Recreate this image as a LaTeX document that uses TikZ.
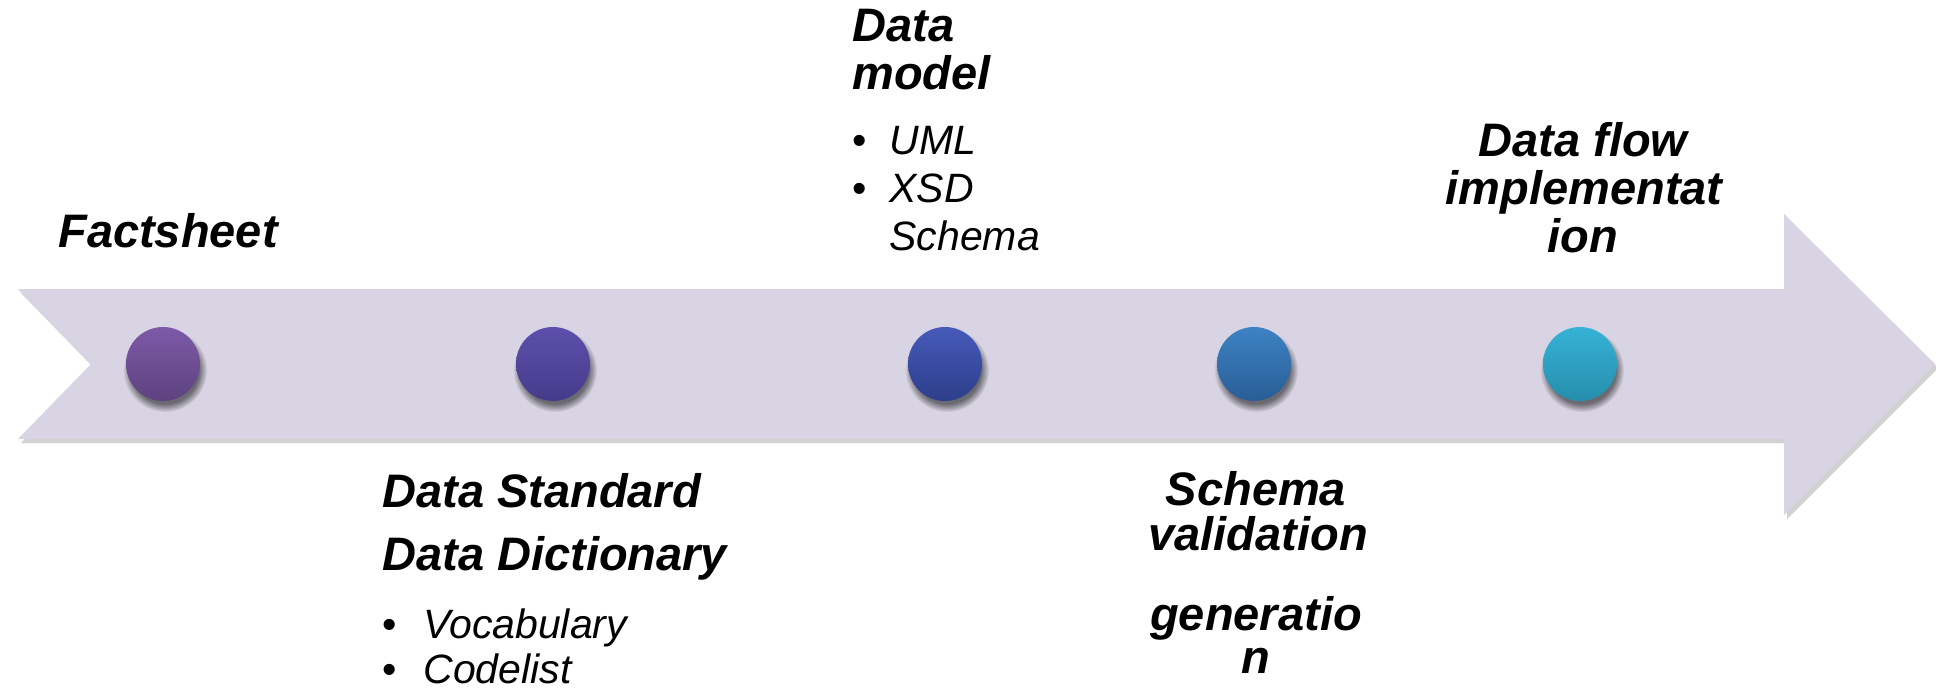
\documentclass[tikz,border=0pt]{standalone}
\usepackage{fontspec}
\setmainfont{Liberation Sans}
\usetikzlibrary{fadings}
\definecolor{arrowfill}{RGB}{216,212,227}
\definecolor{dotAt}{RGB}{125,90,168}  \definecolor{dotAb}{RGB}{94,66,126}
\definecolor{dotBt}{RGB}{93,79,172}   \definecolor{dotBb}{RGB}{69,59,138}
\definecolor{dotCt}{RGB}{70,90,186}   \definecolor{dotCb}{RGB}{45,62,138}
\definecolor{dotDt}{RGB}{61,130,196}  \definecolor{dotDb}{RGB}{41,94,150}
\definecolor{dotEt}{RGB}{54,178,214}  \definecolor{dotEb}{RGB}{38,142,172}
\newcommand{\bul}[1]{\makebox[#1][l]{\upshape\textbullet}}

\begin{document}
\begin{tikzpicture}[x=0.5pt,y=-0.5pt]
    \tikzset{
        head/.style={font=\fontsize{23.5}{24}\selectfont\bfseries\itshape, inner sep=0pt},
        item/.style={font=\fontsize{20.5}{23.5}\selectfont\itshape, inner sep=0pt, anchor=base west},
        dot/.style={circle, minimum size=37pt, inner sep=0pt, shading=axis},
    }
    \useasboundingbox (0,0) rectangle (1936,695);

    % 时间轴箭头（阴影 + 本体）
    \def\Atop{289} \def\Abot{439} \def\Hx{1784}
    \fill[black,opacity=.18,shift={(3,4)}] (18,\Atop) -- (\Hx,\Atop) -- (\Hx,214) -- (1935,364)
        -- (\Hx,515) -- (\Hx,\Abot) -- (18,\Abot) -- (91,364) -- cycle;
    \fill[arrowfill] (18,\Atop) -- (\Hx,\Atop) -- (\Hx,214) -- (1935,364)
        -- (\Hx,515) -- (\Hx,\Abot) -- (18,\Abot) -- (91,364) -- cycle;

    % 五个节点圆点
    \foreach \n/\x/\c in {1/163/dotA, 2/553/dotB, 3/945/dotC, 4/1254/dotD, 5/1580/dotE} {
        \fill[black,opacity=.5,path fading=circle with fuzzy edge 20 percent] (\x+2,370) circle (21pt);
        \node[dot,top color=\c t,bottom color=\c b] (d\n) at (\x,364) {};
    }

    % 上方标注
    \node[head,anchor=base] (fact) at (168,248) {Factsheet};
    \node[head,anchor=base west] (dm1) at (852,42) {Data};
    \node[head,anchor=base west] (dm2) at (852,90) {model};
    \node[item] (uml) at (852,155) {\bul{18.5pt}UML};
    \node[item] (xsd) at (852,203) {\bul{18.5pt}XSD};
    \node[item] (xsd2) at (889,250) {Schema};
    \node[head,anchor=base] (df1) at (1583,157) {Data flow};
    \node[head,anchor=base] (df2) at (1584,205) {implementat};
    \node[head,anchor=base] (df3) at (1583,252) {ion};

    % 下方标注
    \node[head,anchor=base west] (ds) at (382,507) {Data Standard};
    \node[head,anchor=base west] (dd) at (382,570) {Data Dictionary};
    \node[item] (voc) at (382,638) {\bul{20.5pt}Vocabulary};
    \node[item] (code) at (382,683) {\bul{20.5pt}Codelist};
    \node[head,anchor=base] (sv1) at (1256,505) {Schema};
    \node[head,anchor=base] (sv2) at (1258,550) {validation};
    \node[head,anchor=base] (sg1) at (1256,630) {generatio};
    \node[head,anchor=base] (sg2) at (1256,673) {n};
\end{tikzpicture}
\end{document}
